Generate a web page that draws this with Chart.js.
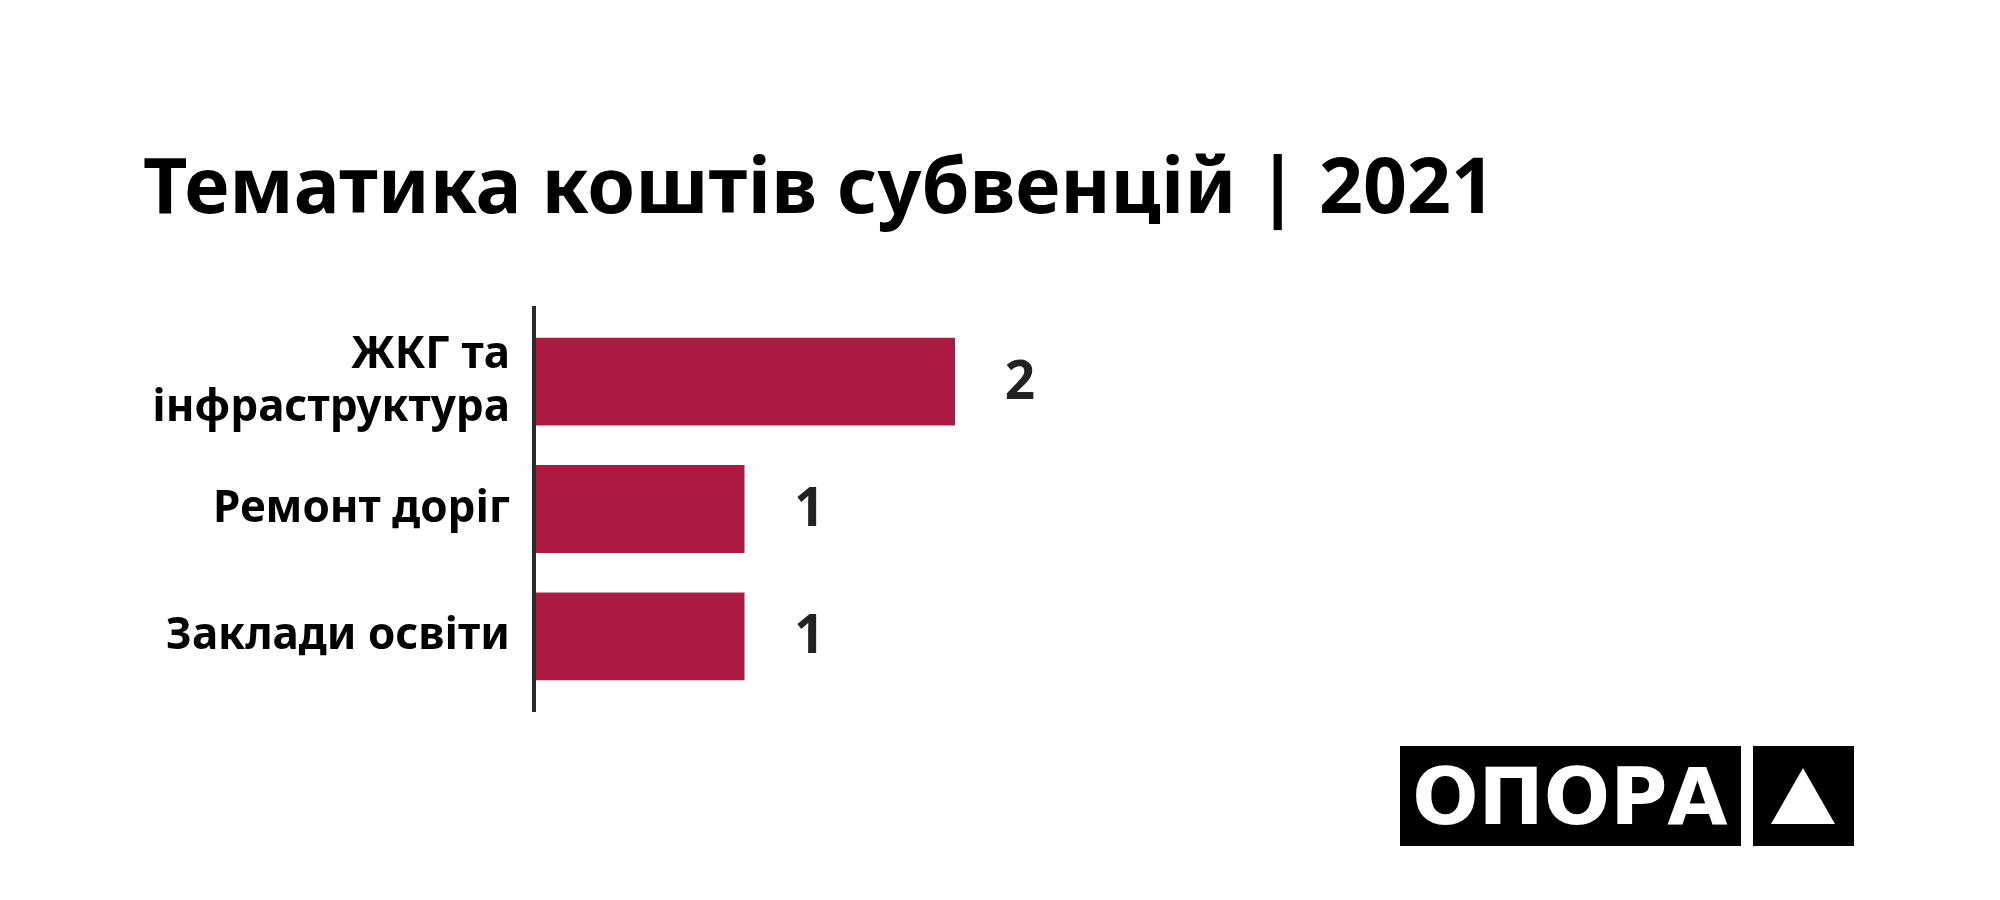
<!DOCTYPE html>
<html>
<head>
<meta charset="utf-8">
<script src="https://cdn.jsdelivr.net/npm/chart.js@4/dist/chart.umd.min.js"></script>
<style>
  html, body { margin: 0; padding: 0; background: #fff; }
  #wrap { width: 2000px; height: 900px; }
</style>
</head>
<body>
<div id="wrap"><canvas id="chart" width="2000" height="900"></canvas></div>
<script>
const categories = [['ЖКГ та', 'інфраструктура'], 'Ремонт доріг', 'Заклади освіти'];
const values = [2, 1, 1];
const title = 'Тематика коштів субвенцій | 2021';
const logoText = 'ОПОРА';

const FONT = '"Noto Sans", "Open Sans", sans-serif';

// heading, drawn above the plot
const heading = {
    id: 'heading',
    afterDraw(chart) {
        const { ctx } = chart;
        ctx.save();
        ctx.fillStyle = '#000';
        ctx.font = 'bold 77px ' + FONT;
        ctx.textAlign = 'left';
        ctx.textBaseline = 'alphabetic';
        ctx.fillText(title, 143, 213);
        ctx.restore();
    }
};

// vertical axis line, a bit longer than the bars area
const axisLine = {
    id: 'axisLine',
    afterDatasetsDraw(chart) {
        const { ctx, chartArea } = chart;
        ctx.save();
        ctx.strokeStyle = '#2b2b2b';
        ctx.lineWidth = 4;
        ctx.beginPath();
        ctx.moveTo(chartArea.left, chartArea.top - 12);
        ctx.lineTo(chartArea.left, chartArea.bottom + 12);
        ctx.stroke();
        ctx.restore();
    }
};

// numbers to the right of each bar
const valueLabels = {
    id: 'valueLabels',
    afterDatasetsDraw(chart) {
        const { ctx } = chart;
        const meta = chart.getDatasetMeta(0);
        ctx.save();
        ctx.fillStyle = '#222';
        ctx.font = 'bold 53px ' + FONT;
        ctx.textAlign = 'center';
        ctx.textBaseline = 'middle';
        meta.data.forEach((bar, i) => {
            ctx.fillText(values[i], bar.x + 65, bar.y + 2);
        });
        ctx.restore();
    }
};

// OPORA logo bottom right
const logo = {
    id: 'logo',
    afterDraw(chart) {
        const { ctx } = chart;
        ctx.save();
        ctx.fillStyle = '#000';
        ctx.fillRect(1400, 746, 341, 100);
        ctx.fillRect(1753, 746, 101, 100);
        ctx.fillStyle = '#fff';
        ctx.font = 'bold 78px "DejaVu Sans", sans-serif';
        ctx.textAlign = 'center';
        ctx.textBaseline = 'alphabetic';
        ctx.fillText(logoText, 1570, 824);
        ctx.beginPath();
        ctx.moveTo(1803, 768);
        ctx.lineTo(1835, 824);
        ctx.lineTo(1771, 824);
        ctx.closePath();
        ctx.fill();
        ctx.restore();
    }
};

new Chart(document.getElementById('chart'), {
    type: 'bar',
    data: {
        labels: categories,
        datasets: [{
            data: values,
            backgroundColor: '#ae1a44',
            borderWidth: 0,
            barPercentage: 0.69,
            categoryPercentage: 1
        }]
    },
    options: {
        indexAxis: 'y',
        responsive: false,
        animation: false,
        layout: { padding: { top: 318, left: 60, right: 624, bottom: 200 } },
        plugins: {
            legend: { display: false },
            tooltip: { enabled: false },
            title: { display: false }
        },
        scales: {
            x: { display: false, min: 0, max: 4 },
            y: {
                grid: { display: false },
                border: { display: false },
                afterFit(scale) { scale.width = 474; },
                ticks: {
                    color: '#000',
                    padding: 16,
                    font: { family: FONT, size: 44, weight: 'bold', lineHeight: 1.2 }
                }
            }
        }
    },
    plugins: [heading, axisLine, valueLabels, logo]
});
</script>
</body>
</html>
